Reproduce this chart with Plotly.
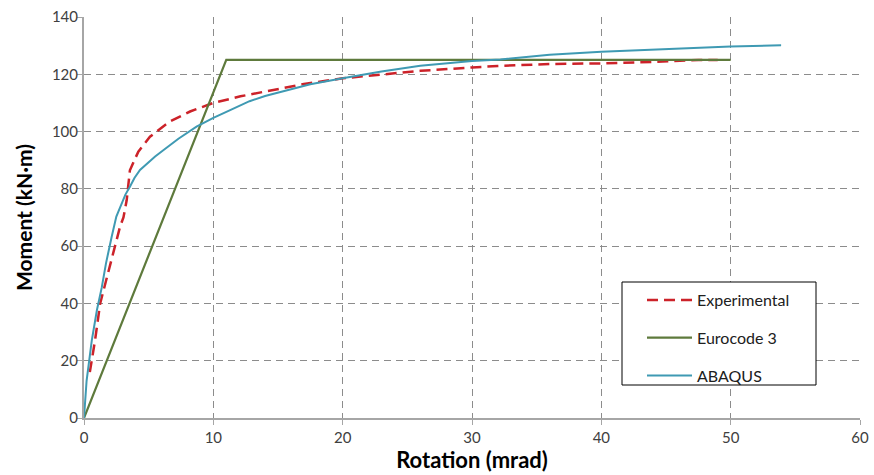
import plotly.graph_objects as go

# Data
exp_x = [0.45, 0.85, 1.25, 1.85, 2.4, 2.8, 3.05, 3.3, 3.55, 4.2, 5.1, 6.6, 8.2, 10, 12.1,
         14.6, 17, 20, 23, 26, 30, 32, 36, 40, 44, 47.5, 49]
exp_y = [16, 27, 40, 50.5, 60, 67, 70, 76, 86.5, 93, 98.2, 103.4, 107, 110, 112.3,
         114.5, 116.6, 118.6, 120, 121.2, 122.4, 122.9, 123.6, 123.8, 124.3, 125, 125]

ec3_x = [0, 11, 50]
ec3_y = [0, 125, 125]

abq_x = [0, 0.2, 0.6, 1.0, 1.37, 1.7, 2.14, 2.5, 2.65, 2.9, 3.2, 3.56, 3.9, 4.33, 5, 5.5,
         6.13, 7.3, 8.7, 10, 11.3, 12.8, 14, 15.2, 17.5, 20, 23, 26, 30, 32.2, 36, 40,
         45, 50, 53.9]
abq_y = [0, 13, 27, 37.7, 45.5, 54, 63.3, 70.3, 72, 75, 78, 80.8, 83.8, 86.6, 89.5, 91.3,
         93.5, 97.5, 101.7, 104.8, 107.5, 110.6, 112.4, 113.9, 116.5, 118.6, 121, 123,
         124.6, 125.2, 126.8, 127.9, 128.9, 129.7, 130.1]

x_ticks = [0, 10, 20, 30, 40, 50, 60]
y_ticks = [0, 20, 40, 60, 80, 100, 120, 140]

FONT = "Lato"

fig = go.Figure()
fig.add_trace(go.Scatter(x=exp_x, y=exp_y, mode="lines", name="Experimental",
                         legendgroup="a",
                         line=dict(color="#CC2229", width=2.5, dash="11px,6px")))
fig.add_trace(go.Scatter(x=ec3_x, y=ec3_y, mode="lines", name="Eurocode 3",
                         legendgroup="b",
                         line=dict(color="#5E7A3C", width=2.2)))
fig.add_trace(go.Scatter(x=abq_x, y=abq_y, mode="lines", name="ABAQUS",
                         legendgroup="c",
                         line=dict(color="#3F9AB3", width=2)))

# legend box
fig.add_shape(type="rect", xref="paper", yref="paper",
              x0=(622 - 84) / 776, x1=(816 - 84) / 776,
              y0=(418 - 385) / 401, y1=(418 - 282) / 401,
              line=dict(color="black", width=1), fillcolor="white", layer="above")

fig.update_layout(
    width=874, height=475,
    margin=dict(l=84, r=14, t=17, b=57, autoexpand=False),
    paper_bgcolor="white", plot_bgcolor="white",
    font=dict(family=FONT, size=15, color="#404040"),
    showlegend=True,
    legend=dict(x=(642 - 84) / 776, y=(418 - 283) / 401, xanchor="left", yanchor="top",
                bgcolor="rgba(0,0,0,0)", borderwidth=0, itemwidth=45,
                font=dict(family=FONT, size=16, color="#202020"),
                traceorder="grouped", tracegroupgap=14),
    xaxis=dict(range=[0, 60], tickvals=x_ticks, ticktext=[str(v) for v in x_ticks],
               automargin=False,
               showgrid=True, gridcolor="#8C8C8C", griddash="7px,5px", gridwidth=1,
               showline=True, linecolor="#A6A6A6", linewidth=2,
               ticks="outside", ticklen=5, tickcolor="#A6A6A6", zeroline=False,
               title=dict(text="<b>Rotation (mrad)</b>", standoff=4,
                          font=dict(family=FONT, size=22, color="black"))),
    yaxis=dict(range=[0, 140], tickvals=y_ticks, ticktext=[str(v) for v in y_ticks],
               automargin=False, ticklabelstandoff=-4,
               showgrid=True, gridcolor="#8C8C8C", griddash="7px,5px", gridwidth=1,
               showline=True, linecolor="#A6A6A6", linewidth=2,
               ticks="outside", ticklen=5, tickcolor="#A6A6A6", zeroline=False,
               title=dict(text="<b>Moment (kN·m)</b>", standoff=14,
                          font=dict(family=FONT, size=21, color="black"))),
)

fig.write_html("out.html")
